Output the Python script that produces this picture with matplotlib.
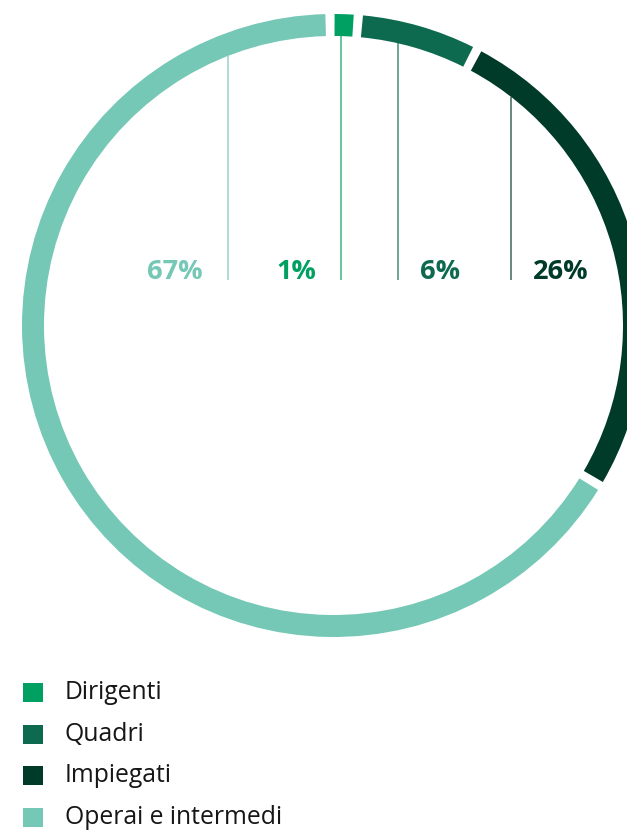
import matplotlib.pyplot as plt
from matplotlib.patches import Wedge, Rectangle
import numpy as np

categories = ["Dirigenti", "Quadri", "Impiegati", "Operai e intermedi"]
shares = [1, 6, 26, 67]
colors = ["#00a062", "#0e6a4f", "#003b2a", "#76c8b6"]
labels = ["1%", "6%", "26%", "67%"]

# where each callout line sits (pixels from the left) and which side its text goes
line_x = [341, 398, 511, 228]
text_side = ["left", "right", "right", "left"]

W, H = 627, 830
plt.rcParams['font.family'] = ['Open Sans', 'DejaVu Sans']

fig = plt.figure(figsize=(W / 100, H / 100), dpi=100)
ax = fig.add_axes([0, 0, 1, 1])
ax.set_xlim(0, W)
ax.set_ylim(0, H)
ax.axis("off")

cx, cy = 333.5, H - 325.5
r_out, ring = 311.5, 22
r_in = r_out - ring
gap = 1.7
start = 0.2
deg_per_pct = (360 - gap * len(shares)) / 100

# ring segments, clockwise from 12 o'clock
a = start
for val, col in zip(shares, colors):
    span = val * deg_per_pct
    ax.add_patch(Wedge((cx, cy), r_out, 90 - (a + span), 90 - a, width=ring,
                       facecolor=col, edgecolor="none"))
    a += span + gap

# callout lines and percentage labels
base_y = H - 280
for lx, lab, col, side in zip(line_x, labels, colors, text_side):
    dx = lx - cx
    top = cy + np.sqrt(r_in ** 2 - dx ** 2)
    ax.plot([lx, lx], [top, base_y], color=col, lw=1.3, alpha=0.65,
            solid_capstyle="butt")
    if side == "left":
        ax.text(lx - 25, base_y + 1, lab, ha="right", va="baseline",
                fontsize=19.5, fontweight="bold", color=col)
    else:
        ax.text(lx + 22, base_y + 1, lab, ha="left", va="baseline",
                fontsize=19.5, fontweight="bold", color=col)

# legend
for i, (name, col) in enumerate(zip(categories, colors)):
    yc = H - (692.5 + i * 41.7)
    ax.add_patch(Rectangle((23, yc - 9.5), 20, 19, facecolor=col, edgecolor="none"))
    ax.text(65, yc, name, ha="left", va="center", fontsize=17.8, color="#161616")

plt.savefig("out.png", dpi=100)
